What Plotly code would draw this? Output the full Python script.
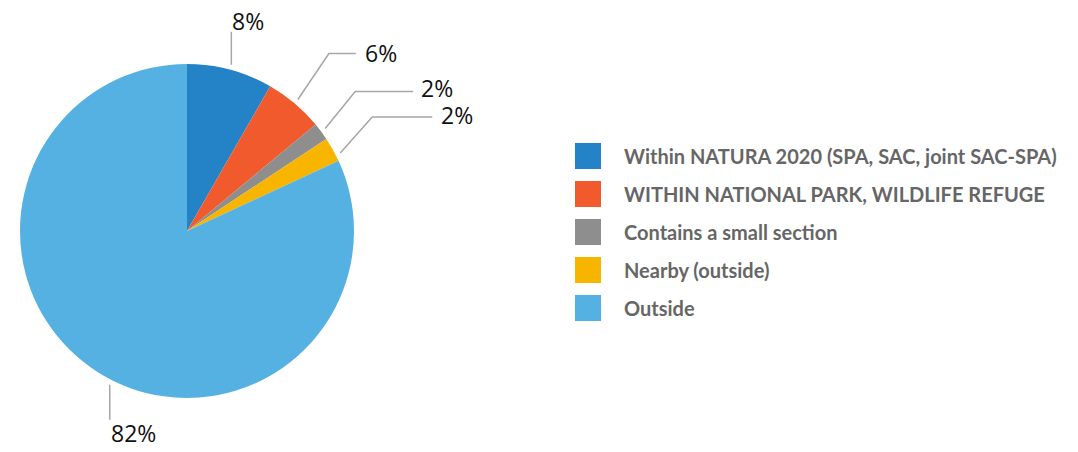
import math
import plotly.graph_objects as go

# ---- data ----
categories = [
    "Within NATURA 2020 (SPA, SAC, joint SAC-SPA)",
    "WITHIN NATIONAL PARK, WILDLIFE REFUGE",
    "Contains a small section",
    "Nearby (outside)",
    "Outside",
]
shares = [8.3, 5.7, 1.7, 2.4, 81.9]
pct_labels = ["8%", "6%", "2%", "2%", "82%"]
colors = ["#2383C6", "#F15A2C", "#8E8E8E", "#F7B500", "#56B1E3"]

# page body has an 8px margin, so draw in a slightly smaller canvas
OFF = 8
W, H = 1078 - 2 * OFF, 452 - 2 * OFF
cx, cy, r = 187 - OFF, 231 - OFF, 167

fig = go.Figure()
fig.add_trace(
    go.Pie(
        labels=categories,
        values=shares,
        marker=dict(colors=colors, line=dict(width=0)),
        sort=False,
        direction="clockwise",
        rotation=0,
        textinfo="none",
        hoverinfo="label+percent",
        showlegend=False,
        domain=dict(x=[(cx - r) / W, (cx + r) / W], y=[(H - cy - r) / H, (H - cy + r) / H]),
    )
)

# invisible pixel axes for leader lines / labels / legend
fig.add_trace(go.Scatter(x=[0], y=[0], mode="markers", marker=dict(opacity=0), hoverinfo="skip", showlegend=False))

# leader style: (position inside slice, elbow dx, elbow dy, tail length, text dx, text dy)
leader = [
    (0.5, 0, -33, 0, 17, -11),
    (0.5, 31, -46, 27, 8, -1),
    (0.5, 30, -37, 58, 7, -4),
    (0.75, 32, -36, 60, 8, -2),
    (0.48, 0, 35, 0, 24, 13),
]

total = sum(shares)
cum = 0.0
for i, v in enumerate(shares):
    pos, edx, edy, tail, tdx, tdy = leader[i]
    ang = 2 * math.pi * (cum + v * pos) / total
    cum += v
    ax = cx + (r + 5) * math.sin(ang)
    ay = cy - (r + 5) * math.cos(ang)
    ex, ey = ax + edx, ay + edy
    path = f"M {ax},{ay} L {ex},{ey}"
    if tail:
        path += f" L {ex + tail},{ey}"
    fig.add_shape(type="path", path=path, xref="x", yref="y",
                  line=dict(color="#A6A6A6", width=1.5))
    fig.add_annotation(x=ex + tail + tdx, y=ey + tdy, text=pct_labels[i], xref="x", yref="y",
                       showarrow=False, xanchor="left" if tail else "center", yanchor="middle",
                       borderpad=0,
                       font=dict(family="Open Sans", size=23, color="#111111"))

# custom legend
lx, ly0, lstep = 575 - OFF, 156 - OFF, 38
for i, name in enumerate(categories):
    y = ly0 + i * lstep
    fig.add_shape(type="rect", x0=lx, x1=lx + 26, y0=y - 13, y1=y + 13, xref="x", yref="y",
                  fillcolor=colors[i], line=dict(width=0))
    fig.add_annotation(x=lx + 47, y=y, text=name, xref="x", yref="y", showarrow=False,
                       xanchor="left", yanchor="middle",
                       font=dict(family="Lato", size=20, color="#666666", weight=700))

fig.update_layout(
    width=W, height=H,
    margin=dict(l=0, r=0, t=0, b=0),
    paper_bgcolor="white", plot_bgcolor="rgba(0,0,0,0)",
    xaxis=dict(range=[0, W], visible=False, fixedrange=True),
    yaxis=dict(range=[H, 0], visible=False, fixedrange=True),
)

fig.write_html("out.html")
